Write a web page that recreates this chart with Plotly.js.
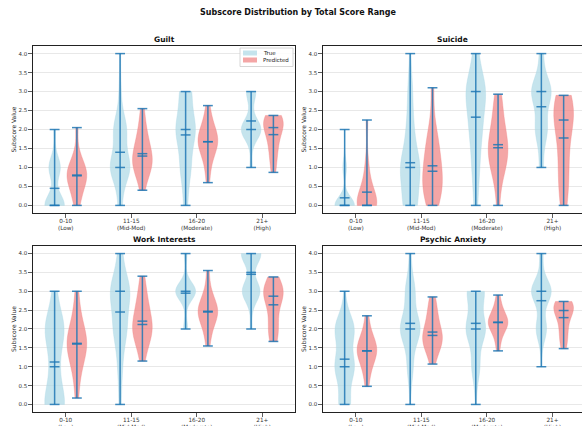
<!DOCTYPE html>
<html>
<head>
<meta charset="utf-8">
<script src="https://cdn.plot.ly/plotly-3.0.1.min.js"></script>
<style>html,body{margin:0;padding:0;background:#fff}#chart{width:582px;height:426px}</style>
</head>
<body>
<div id="chart"></div>
<script>
// ---------------- data ----------------
const rangeLabels = ['0-10<br>(Low)', '11-15<br>(Mid-Mod)', '16-20<br>(Moderate)', '21+<br>(High)'];
const subscoreNames = ['Guilt', 'Suicide', 'Work Interests', 'Psychic Anxiety'];
const seriesNames = ['True', 'Predicted'];
const scoreLevels = [0, 1, 2, 3, 4];

// True subscores: number of patients at each integer score (0..4), per total-score range
const guiltTrueCounts   = [[24,14,2,0,0],[4,20,13,2,1],[3,8,15,9,0],[0,3,25,12,0]];
const suicideTrueCounts = [[33,6,1,0,0],[12,17,6,4,1],[3,6,10,17,4],[0,4,12,20,4]];
const workTrueCounts    = [[16,6,15,3,0],[2,4,12,18,4],[0,0,6,30,4],[0,0,2,18,20]];
const anxietyTrueCounts = [[9,15,15,1,0],[1,6,21,10,2],[1,7,17,15,0],[0,1,12,23,4]];

// Predicted subscores (continuous), per total-score range
const guiltPred = [
  [0, 0.15, 0.35, 0.5, 0.6, 0.68, 0.74, 0.78, 0.82, 0.88, 0.95, 1.05, 1.15, 1.3, 2.05],
  [0.4, 0.75, 0.9, 1.0, 1.05, 1.1, 1.2, 1.3, 1.35, 1.45, 1.6, 1.75, 1.9, 2.15, 2.55],
  [0.6, 1.0, 1.25, 1.4, 1.5, 1.6, 1.65, 1.68, 1.75, 1.8, 1.9, 2.0, 2.1, 2.3, 2.63],
  [0.87, 1.1, 1.35, 1.5, 1.65, 1.8, 1.95, 2.05, 2.1, 2.15, 2.2, 2.25, 2.3, 2.33, 2.37]
];
const suicidePred = [
  [0, 0, 0, 0, 0, 0, 0, 0, 0.1, 0.2, 0.3, 0.5, 0.8, 1.1, 2.25],
  [0, 0.15, 0.3, 0.4, 0.5, 0.6, 0.75, 0.9, 1.0, 1.2, 1.4, 1.6, 1.75, 2.0, 3.1],
  [0, 0.8, 0.9, 1.1, 1.25, 1.35, 1.45, 1.52, 1.65, 1.8, 1.95, 2.1, 2.45, 2.75, 2.93],
  [0, 0.3, 0.6, 0.9, 1.2, 1.5, 1.85, 2.25, 2.3, 2.4, 2.5, 2.55, 2.65, 2.75, 2.9]
];
const workPred = [
  [0.17, 0.7, 1.0, 1.2, 1.35, 1.45, 1.55, 1.62, 1.68, 1.75, 1.85, 2.0, 2.2, 2.5, 3.0],
  [1.15, 1.5, 1.7, 1.8, 1.9, 1.95, 2.05, 2.12, 2.2, 2.35, 2.5, 2.65, 2.8, 3.05, 3.4],
  [1.55, 1.85, 2.05, 2.2, 2.3, 2.38, 2.42, 2.45, 2.5, 2.55, 2.62, 2.72, 2.85, 3.05, 3.55],
  [1.67, 1.8, 1.95, 2.1, 2.3, 2.55, 2.78, 2.87, 2.92, 2.97, 3.0, 3.05, 3.1, 3.18, 3.38]
];
const anxietyPred = [
  [0.48, 0.8, 1.0, 1.15, 1.25, 1.32, 1.38, 1.42, 1.48, 1.55, 1.62, 1.7, 1.8, 2.0, 2.35],
  [1.07, 1.35, 1.5, 1.58, 1.65, 1.72, 1.78, 1.83, 1.9, 2.0, 2.15, 2.3, 2.45, 2.65, 2.85],
  [1.42, 1.7, 1.88, 2.0, 2.07, 2.12, 2.15, 2.17, 2.2, 2.25, 2.3, 2.4, 2.5, 2.65, 2.9],
  [1.48, 1.65, 1.8, 1.95, 2.1, 2.25, 2.4, 2.49, 2.52, 2.56, 2.6, 2.63, 2.66, 2.7, 2.73]
];

const trueCountsAll = [guiltTrueCounts, suicideTrueCounts, workTrueCounts, anxietyTrueCounts];
const predAll = [guiltPred, suicidePred, workPred, anxietyPred];

// ---------------- style / layout config ----------------
const FONT = 'DejaVu Sans';
const TRUE_FILL = 'rgba(173,216,230,0.7)';
const PRED_FILL = 'rgba(240,128,128,0.7)';
const STAT_COLOR = 'rgba(31,119,180,0.85)';
const VIOLIN_WIDTH = 0.3;
const OFFSET = 0.17;
const W = 582, H = 426;
const xDomains = [[0.0567, 0.5069], [0.555, 1.0], [0.0567, 0.5069], [0.555, 1.0]];
const yDomains = [[0.5, 0.892], [0.5, 0.892], [0.0329, 0.4225], [0.0329, 0.4225]];
const xRanges = [[0.5, 4.5], [0.5, 4.45], [0.5, 4.5], [0.5, 4.45]];

function expandCounts(counts) {
  const out = [];
  counts.forEach((c, i) => { for (let k = 0; k < c; k++) out.push(scoreLevels[i]); });
  return out;
}
function stats(v) {
  const s = v.slice().sort((a, b) => a - b);
  const n = s.length;
  const mean = s.reduce((a, b) => a + b, 0) / n;
  const median = n % 2 ? s[(n - 1) / 2] : (s[n / 2 - 1] + s[n / 2]) / 2;
  const sd = Math.sqrt(s.reduce((a, b) => a + (b - mean) * (b - mean), 0) / (n - 1));
  return { min: s[0], max: s[n - 1], mean, median, bw: Math.max(sd * Math.pow(n, -0.2), 0.05) };
}

const traces = [];
subscoreNames.forEach((name, p) => {
  const ax = p === 0 ? '' : String(p + 1);
  const lx = [], ly = [];
  const half = VIOLIN_WIDTH * 0.25;
  const addStats = (pos, st) => {
    lx.push(pos, pos, null); ly.push(st.min, st.max, null);
    [st.min, st.max, st.mean, st.median].forEach(v => {
      lx.push(pos - half, pos + half, null); ly.push(v, v, null);
    });
  };
  rangeLabels.forEach((lab, i) => {
    const tv = expandCounts(trueCountsAll[p][i]);
    const pv = predAll[p][i];
    const ts = stats(tv), ps = stats(pv);
    const base = i + 1;
    traces.push({
      type: 'violin', x0: base - OFFSET, y: tv, name: seriesNames[0], showlegend: false,
      width: VIOLIN_WIDTH, scalemode: 'width', spanmode: 'hard',
      bandwidth: ts.bw, points: false, box: { visible: false }, meanline: { visible: false },
      fillcolor: TRUE_FILL, line: { color: TRUE_FILL, width: 0.5 },
      hoverinfo: 'skip', xaxis: 'x' + ax, yaxis: 'y' + ax
    });
    traces.push({
      type: 'violin', x0: base + OFFSET, y: pv, name: seriesNames[1], showlegend: false,
      width: VIOLIN_WIDTH, scalemode: 'width', spanmode: 'hard',
      bandwidth: ps.bw, points: false, box: { visible: false }, meanline: { visible: false },
      fillcolor: PRED_FILL, line: { color: PRED_FILL, width: 0.5 },
      hoverinfo: 'skip', xaxis: 'x' + ax, yaxis: 'y' + ax
    });
    addStats(base - OFFSET, ts);
    addStats(base + OFFSET, ps);
  });
  traces.push({
    type: 'scatter', mode: 'lines', x: lx, y: ly, connectgaps: false,
    line: { color: STAT_COLOR, width: 1.5 }, showlegend: false, hoverinfo: 'skip',
    xaxis: 'x' + ax, yaxis: 'y' + ax
  });
});

// compact legend box (matplotlib-style) in the first panel's upper-right corner
const px = v => v / W, py = v => 1 - v / H;
const legendShapes = [
  { type: 'rect', xref: 'paper', yref: 'paper', x0: px(240), x1: px(293), y0: py(66.5), y1: py(48),
    fillcolor: 'rgba(255,255,255,0.85)', line: { color: '#cccccc', width: 0.8 }, layer: 'above' },
  { type: 'rect', xref: 'paper', yref: 'paper', x0: px(243), x1: px(257), y0: py(55.5), y1: py(50.5),
    fillcolor: TRUE_FILL, line: { width: 0 }, layer: 'above' },
  { type: 'rect', xref: 'paper', yref: 'paper', x0: px(243), x1: px(257), y0: py(62.5), y1: py(57.5),
    fillcolor: PRED_FILL, line: { width: 0 }, layer: 'above' }
];
const legendTexts = [
  { text: seriesNames[0], x: px(261), y: py(53) },
  { text: seriesNames[1], x: px(261), y: py(60) }
].map(a => Object.assign(a, {
  xref: 'paper', yref: 'paper', xanchor: 'left', yanchor: 'middle', showarrow: false,
  font: { size: 5.5, family: FONT, color: '#222' }
}));

const layout = {
  width: W, height: H,
  margin: { l: 0, r: 0, t: 0, b: 0 },
  paper_bgcolor: '#fff', plot_bgcolor: '#fff',
  font: { family: FONT, color: '#222' },
  violinmode: 'overlay',
  showlegend: false,
  shapes: legendShapes,
  annotations: [{
    text: '<b>Subscore Distribution by Total Score Range</b>', x: 298 / W, y: py(12.5),
    xref: 'paper', yref: 'paper', xanchor: 'center', yanchor: 'middle', showarrow: false,
    font: { size: 8, family: FONT, color: '#111' }
  }].concat(legendTexts)
};
subscoreNames.forEach((name, p) => {
  const ax = p === 0 ? '' : String(p + 1);
  layout['xaxis' + ax] = {
    domain: xDomains[p], anchor: 'y' + ax, type: 'linear', range: xRanges[p],
    tickvals: [1, 2, 3, 4], ticktext: rangeLabels, ticks: 'outside', ticklen: 3.5,
    tickwidth: 0.8, tickcolor: '#333', showgrid: false, zeroline: false,
    showline: true, linecolor: '#222', linewidth: 1.2, mirror: true,
    ticklabelstandoff: -2,
    tickfont: { size: 5.7, family: FONT, color: '#333' }
  };
  layout['yaxis' + ax] = {
    domain: yDomains[p], anchor: 'x' + ax, range: [-0.2, 4.2],
    tickvals: [0, 0.5, 1, 1.5, 2, 2.5, 3, 3.5, 4], tickformat: '.1f',
    ticks: 'outside', ticklen: 3.5, tickwidth: 0.8, tickcolor: '#333',
    showgrid: true, gridcolor: '#e8e8e8', gridwidth: 1, zeroline: false,
    showline: true, linecolor: '#222', linewidth: 1.2, mirror: true,
    tickfont: { size: 5.5, family: FONT, color: '#333' },
    title: { text: 'Subscore Value', font: { size: 6, family: FONT, color: '#222' }, standoff: 1 }
  };
  layout.annotations.push({
    text: '<b>' + name + '</b>', x: (xDomains[p][0] + xDomains[p][1]) / 2, y: yDomains[p][1],
    xref: 'paper', yref: 'paper', xanchor: 'center', yanchor: 'bottom', yshift: 0, showarrow: false,
    font: { size: 7.5, family: FONT, color: '#111' }
  });
});

Plotly.newPlot('chart', traces, layout, { displayModeBar: false, staticPlot: true });
</script>
</body>
</html>
